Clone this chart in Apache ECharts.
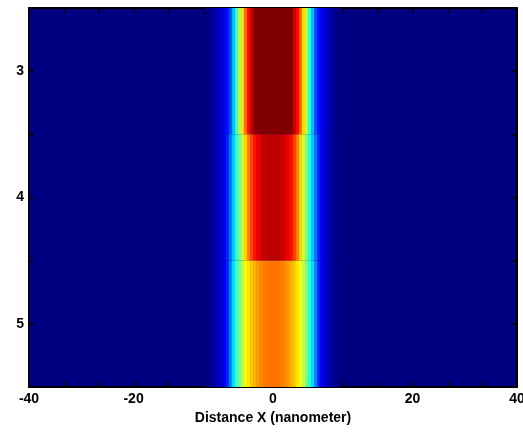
<!DOCTYPE html>
<html>
<head>
<meta charset="utf-8">
<script src="https://cdn.jsdelivr.net/npm/echarts@6/dist/echarts.min.js"></script>
<style>
html,body{margin:0;padding:0;background:#fff;}
#c{width:523px;height:435px;}
</style>
</head>
<body>
<div id="c"></div>
<script>
// ---- data ----
var xPositions = [-11,-10.5,-10,-9.5,-9,-8.5,-8,-7.5,-7,-6.5,-6,-5.5,-5,-4.5,-4,-3.5,-3,-2.5,-2,-1.5,-1,-0.5,0,
                  0.5,1,1.5,2,2.5,3,3.5,4,4.5,5,5.5,6,6.5,7,7.5,8,8.5,9,9.5,10,10.5,11];
var rowY = [3, 4, 5];
var row3 = [0,0.01,0.02,0.04,0.06,0.08,0.11,0.14,0.20,0.31,0.43,0.55,0.66,0.77,0.87,0.93,1,1,1,1,1,1,1,
            1,1,1,1,1,1,0.93,0.87,0.77,0.66,0.55,0.43,0.31,0.20,0.14,0.11,0.08,0.06,0.04,0.02,0.01,0];
var row4 = [0,0.01,0.02,0.04,0.06,0.08,0.11,0.16,0.24,0.32,0.41,0.49,0.58,0.67,0.75,0.81,0.86,0.89,0.91,0.93,0.935,0.94,0.94,
            0.94,0.935,0.93,0.91,0.89,0.86,0.81,0.75,0.67,0.58,0.49,0.41,0.32,0.24,0.16,0.11,0.08,0.06,0.04,0.02,0.01,0];
var row5 = [0,0.01,0.02,0.04,0.06,0.08,0.11,0.16,0.25,0.34,0.42,0.49,0.56,0.62,0.65,0.68,0.70,0.72,0.74,0.75,0.76,0.76,0.76,
            0.76,0.76,0.75,0.74,0.72,0.70,0.68,0.65,0.62,0.56,0.49,0.42,0.34,0.25,0.16,0.11,0.08,0.06,0.04,0.02,0.01,0];
var rows = [row3, row4, row5];
var xTickLabels = {0: '-40', 3: '-20', 7: '0', 11: '20', 14: '40'};
var yTickLabels = [3, 4, 5];

// ---- jet colormap ----
function clamp(v){ return Math.max(0, Math.min(1, v)); }
var jet = [];
for (var i = 0; i < 64; i++) {
  var t = i / 63;
  var r = clamp(1.5 - Math.abs(4 * t - 3));
  var g = clamp(1.5 - Math.abs(4 * t - 2));
  var b = clamp(1.5 - Math.abs(4 * t - 1));
  jet.push('rgb(' + Math.round(r * 255) + ',' + Math.round(g * 255) + ',' + Math.round(b * 255) + ')');
}

var data = [];
rows.forEach(function (vals, ri) {
  vals.forEach(function (v, xi) {
    data.push([xPositions[xi], rowY[ri], v]);
  });
});
var halfStep = (xPositions[1] - xPositions[0]) / 2;

var font = 'Liberation Sans, Arial, sans-serif';
var chart = echarts.init(document.getElementById('c'), null, {renderer: 'canvas'});
chart.setOption({
  animation: false,
  backgroundColor: '#fff',
  grid: {left: 29, top: 8, right: 6, bottom: 48, show: true, backgroundColor: jet[0], borderWidth: 0,
         containLabel: false, outerBoundsMode: 'none'},
  visualMap: {type: 'continuous', show: false, min: 0, max: 1, dimension: 2, seriesIndex: 0,
              inRange: {color: jet}},
  xAxis: [
    {type: 'value', min: -40, max: 40, show: false},
    {type: 'value', min: 0, max: 14, interval: 1, position: 'bottom',
     axisLine: {show: true, onZero: false, lineStyle: {color: '#000', width: 2}},
     axisTick: {show: true, inside: true, length: 5, lineStyle: {color: '#000', width: 1.5}},
     splitLine: {show: false},
     axisLabel: {show: true, margin: 5, color: '#000', fontFamily: font, fontWeight: 'bold', fontSize: 14,
       hideOverlap: false,
       formatter: function (v) { var k = Math.round(v); return xTickLabels[k] !== undefined ? xTickLabels[k] : ''; }},
     name: 'Distance X (nanometer)', nameLocation: 'middle', nameGap: 23,
     nameTextStyle: {color: '#000', fontFamily: font, fontWeight: 'bold', fontSize: 14}},
    {type: 'value', min: 0, max: 14, interval: 1, position: 'top',
     axisLine: {show: true, onZero: false, lineStyle: {color: '#000', width: 2}},
     axisTick: {show: true, inside: true, length: 5, lineStyle: {color: '#000', width: 1.5}},
     splitLine: {show: false}, axisLabel: {show: false}}
  ],
  yAxis: [
    {type: 'value', min: 2.5, max: 5.5, interval: 0.5, inverse: true, position: 'left',
     axisLine: {show: true, onZero: false, lineStyle: {color: '#000', width: 2}},
     axisTick: {show: true, inside: true, length: 5, lineStyle: {color: '#000', width: 1.5}},
     splitLine: {show: false},
     axisLabel: {show: true, margin: 5, color: '#000', fontFamily: font, fontWeight: 'bold', fontSize: 14,
       formatter: function (v) { return yTickLabels.indexOf(v) >= 0 ? String(v) : ''; }}},
    {type: 'value', min: 2.5, max: 5.5, interval: 0.5, inverse: true, position: 'right',
     axisLine: {show: true, onZero: false, lineStyle: {color: '#000', width: 2}},
     axisTick: {show: true, inside: true, length: 5, lineStyle: {color: '#000', width: 1.5}},
     splitLine: {show: false}, axisLabel: {show: false}}
  ],
  series: [{
    type: 'custom',
    xAxisIndex: 0, yAxisIndex: 0,
    encode: {x: 0, y: 1},
    clip: true,
    data: data,
    renderItem: function (params, api) {
      var x = api.value(0), y = api.value(1);
      var p0 = api.coord([x - halfStep, y - 0.5]);
      var p1 = api.coord([x + halfStep, y + 0.5]);
      return {
        type: 'rect',
        shape: {x: Math.min(p0[0], p1[0]), y: Math.min(p0[1], p1[1]),
                width: Math.abs(p1[0] - p0[0]) + 0.6, height: Math.abs(p1[1] - p0[1])},
        style: {fill: api.visual('color')}
      };
    },
    z: 1
  }]
});
</script>
</body>
</html>
